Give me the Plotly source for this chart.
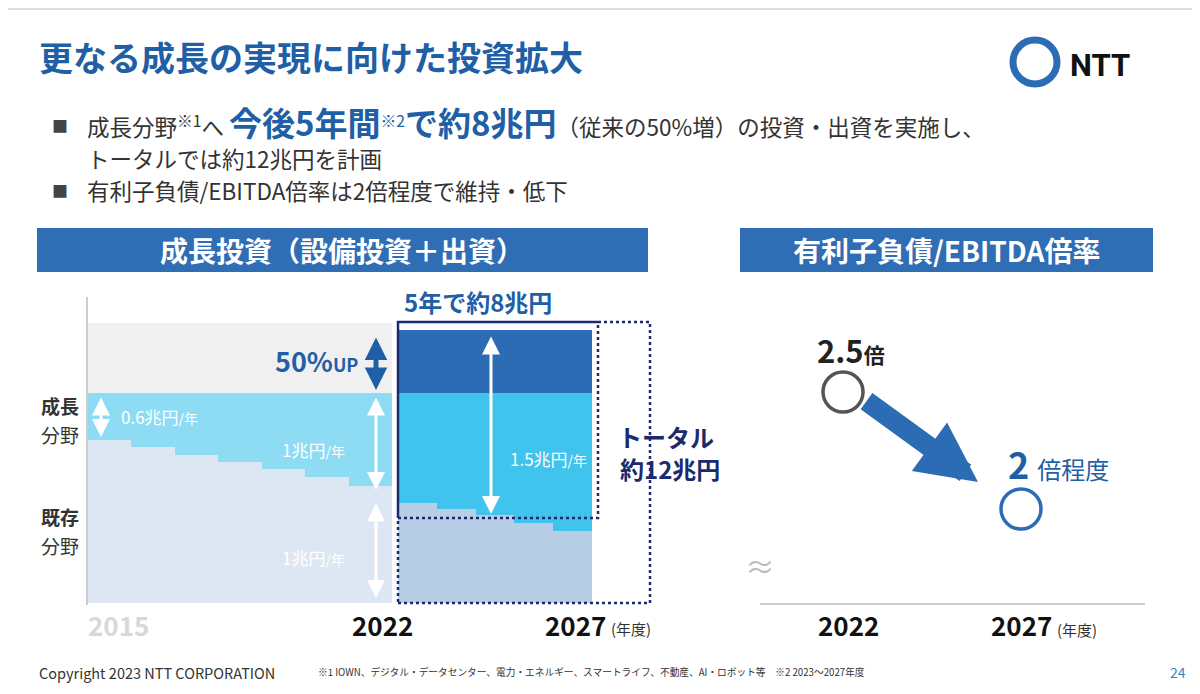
import plotly.graph_objects as go

# heights in chart units (left: baseline = 0, top of growth = 210)
left_years = [2015, 2016, 2017, 2018, 2019, 2020, 2021]
left_exist = [163, 156, 148, 141, 134, 126, 117]
left_total = 210
right_years = [2023, 2024, 2025, 2026, 2027]
right_exist = [100, 94, 88, 80, 72]
right_base_top = 210
right_top = 273

# x positions: 2015-2022 block is 304 wide, 2023-2027 block 194 wide after a small gap
lw, rw = 304 / 7, 194 / 5
lx = [lw * (i + 0.5) for i in range(7)]
rx = [310 + rw * (i + 0.5) for i in range(5)]

fig = go.Figure()
fig.add_trace(go.Bar(x=lx, y=left_exist, width=lw, marker_color="#dde7f3", marker_line_width=0, xaxis="x", yaxis="y"))
fig.add_trace(go.Bar(x=lx, y=[left_total - v for v in left_exist], width=lw, marker_color="#8ddcf4", marker_line_width=0, xaxis="x", yaxis="y"))
fig.add_trace(go.Bar(x=rx, y=right_exist, width=rw, marker_color="#b8cde6", marker_line_width=0, xaxis="x", yaxis="y"))
fig.add_trace(go.Bar(x=rx, y=[right_base_top - v for v in right_exist], width=rw, marker_color="#40c3ec", marker_line_width=0, xaxis="x", yaxis="y"))
fig.add_trace(go.Bar(x=rx, y=[right_top - right_base_top] * 5, width=rw, marker_color="#2c6cb4", marker_line_width=0, xaxis="x", yaxis="y"))

# right chart: debt / EBITDA
fig.add_trace(go.Scatter(x=[83], y=[213], mode="markers", xaxis="x2", yaxis="y2",
                         marker=dict(size=40, color="white", line=dict(color="#555555", width=3.5))))
fig.add_trace(go.Scatter(x=[261], y=[96], mode="markers", xaxis="x2", yaxis="y2",
                         marker=dict(size=40, color="white", line=dict(color="#2c6cb4", width=3.5))))

# page has an 8px body margin
W, H, M = 1184, 678, 8
def px(x): return (x - M) / W
def py(y): return 1 - (y - M) / H

fig.update_layout(
    width=W, height=H, margin=dict(l=0, r=0, t=0, b=0),
    plot_bgcolor="white", paper_bgcolor="white", showlegend=False, barmode="stack", bargap=0,
    font=dict(family="Noto Sans CJK JP", color="#333333"),
    xaxis=dict(domain=[px(88), px(592)], range=[0, 504], visible=False),
    yaxis=dict(domain=[py(603), py(300)], range=[0, 303], visible=False),
    xaxis2=dict(domain=[px(760), px(1145)], range=[0, 385], showticklabels=False, showgrid=False,
                zeroline=False, showline=True, linecolor="#cccccc", linewidth=2),
    yaxis2=dict(domain=[py(605), py(297)], range=[0, 308], showticklabels=False, showgrid=False,
                zeroline=False, showline=True, linecolor="#cccccc", linewidth=2),
)

shapes = [
    dict(type="rect", xref="paper", yref="paper", x0=px(88), x1=px(392), y0=py(603), y1=py(323),
         fillcolor="#f0f0f0", line_width=0, layer="below"),
    dict(type="rect", xref="paper", yref="paper", x0=px(37), x1=px(648), y0=py(272), y1=py(228),
         fillcolor="#2f6db5", line_width=0),
    dict(type="rect", xref="paper", yref="paper", x0=px(740), x1=px(1153), y0=py(272), y1=py(228),
         fillcolor="#2f6db5", line_width=0),
    dict(type="rect", xref="paper", yref="paper", x0=px(398), x1=px(650), y0=py(603), y1=py(322),
         line=dict(color="#1a2a6c", width=2.5, dash="dot")),
    dict(type="rect", xref="paper", yref="paper", x0=px(398), x1=px(598), y0=py(518), y1=py(322),
         line=dict(color="#1a2a6c", width=2.5, dash="dot")),
    dict(type="circle", xref="paper", yref="paper", x0=px(1013), x1=px(1057), y0=py(84), y1=py(40),
         line=dict(color="#2c6cb4", width=7)),
    dict(type="rect", xref="paper", yref="paper", x0=0, x1=1, y0=py(10), y1=1,
         fillcolor="#dddddd", line_width=0),
]
fig.update_layout(shapes=shapes)

B = "#1f5fa6"
def t(x, y, s, size, color="#333333", xa="left", bold=False, fam=None):
    fig.add_annotation(xref="paper", yref="paper", x=px(x), y=py(y), text=(f"<b>{s}</b>" if bold else s),
                       showarrow=False, xanchor=xa, yanchor="middle",
                       font=dict(size=size, color=color, family=fam or "Noto Sans CJK JP"))

t(37, 57, "更なる成長の実現に向けた投資拡大", 34, B, bold=True)
t(1068, 66, "NTT", 31, "#111111", bold=True, fam="Roboto")
t(50, 125, "■", 16, "#444444")
t(85, 122, "成長分野<sup>※1</sup>へ <span style='font-size:33px;color:#1f5fa6'><b>今後5年間</b></span>"
           "<span style='color:#1f5fa6'><sup>※2</sup></span>"
           "<span style='font-size:33px;color:#1f5fa6'><b>で約8兆円</b></span>（従来の50%増）の投資・出資を実施し、", 22.5)
t(85, 158, "トータルでは約12兆円を計画", 22.5)
t(50, 190, "■", 16, "#444444")
t(85, 190, "有利子負債/EBITDA倍率は2倍程度で維持・低下", 22.5)
t(342, 250, "成長投資（設備投資＋出資）", 28, "white", "center", True)
t(946, 250, "有利子負債/EBITDA倍率", 28, "white", "center", True)

t(478, 301, "5年で約8兆円", 24, B, "center", True)
t(316, 360, "50%<span style='font-size:18px'>UP</span>", 27, B, "center", True)
t(60, 406, "成長", 19, "#333333", "center", True)
t(60, 434, "分野", 19, "#333333", "center")
t(60, 516, "既存", 19, "#333333", "center", True)
t(60, 545, "分野", 19, "#333333", "center")
t(119, 416, "0.6兆円<span style='font-size:14px'>/年</span>", 17, "white")
t(313, 449, "1兆円<span style='font-size:14px'>/年</span>", 17, "white", "center")
t(313, 557, "1兆円<span style='font-size:14px'>/年</span>", 17, "white", "center")
t(548, 458, "1.5兆円<span style='font-size:14px'>/年</span>", 17, "white", "center")
t(666, 436, "トータル", 24, "#1a2a6c", "center", True)
t(670, 468, "約12兆円", 24, "#1a2a6c", "center", True)
t(118, 624, "2015", 26, "#d8d8d8", "center", True)
t(382, 624, "2022", 26, "#111111", "center", True)
t(608, 624, "2027", 26, "#111111", "right", True)
t(609, 628, "(年度)", 15, "#333333")
t(851, 349, "2.5<span style='font-size:21px'>倍</span>", 31, "#222222", "center", True)
t(1006, 463, "<b>2</b> <span style='font-size:24px'>倍程度</span>", 36, B)
t(760, 565, "≈", 30, "#bbbbbb", "center")
t(848, 624, "2022", 26, "#111111", "center", True)
t(1054, 624, "2027", 26, "#111111", "right", True)
t(1055, 629, "(年度)", 15, "#333333")
t(37, 672, "Copyright 2023 NTT CORPORATION", 14.5, "#333333")
t(316, 672, "※1 IOWN、デジタル・データセンター、電力・エネルギー、スマートライフ、不動産、AI・ロボット等　※2 2023～2027年度", 9.7, "#333333")
t(1188, 672, "24", 14, "#3c7fc4", "right")

def arrow(x0, y0, x1, y1, color, w, both=True, head=2, size=1.2):
    fig.add_annotation(xref="paper", yref="paper", axref="pixel", ayref="pixel",
                       x=px(x1), y=py(y1), ax=x0 - x1, ay=y0 - y1, text="", showarrow=True,
                       arrowhead=head, arrowsize=size, arrowwidth=w, arrowcolor=color,
                       arrowside="end+start" if both else "end")

arrow(101, 396, 101, 437, "white", 3)
arrow(376, 396, 376, 490, "white", 3)
arrow(376, 502, 376, 598, "white", 3)
arrow(376, 336, 376, 390, "#1f5fa6", 5, size=0.9)
arrow(491, 335, 491, 514, "white", 3)
arrow(865, 400, 978, 482, "#2c6cb4", 20, both=False, size=0.6)

fig.write_html("out.html")
